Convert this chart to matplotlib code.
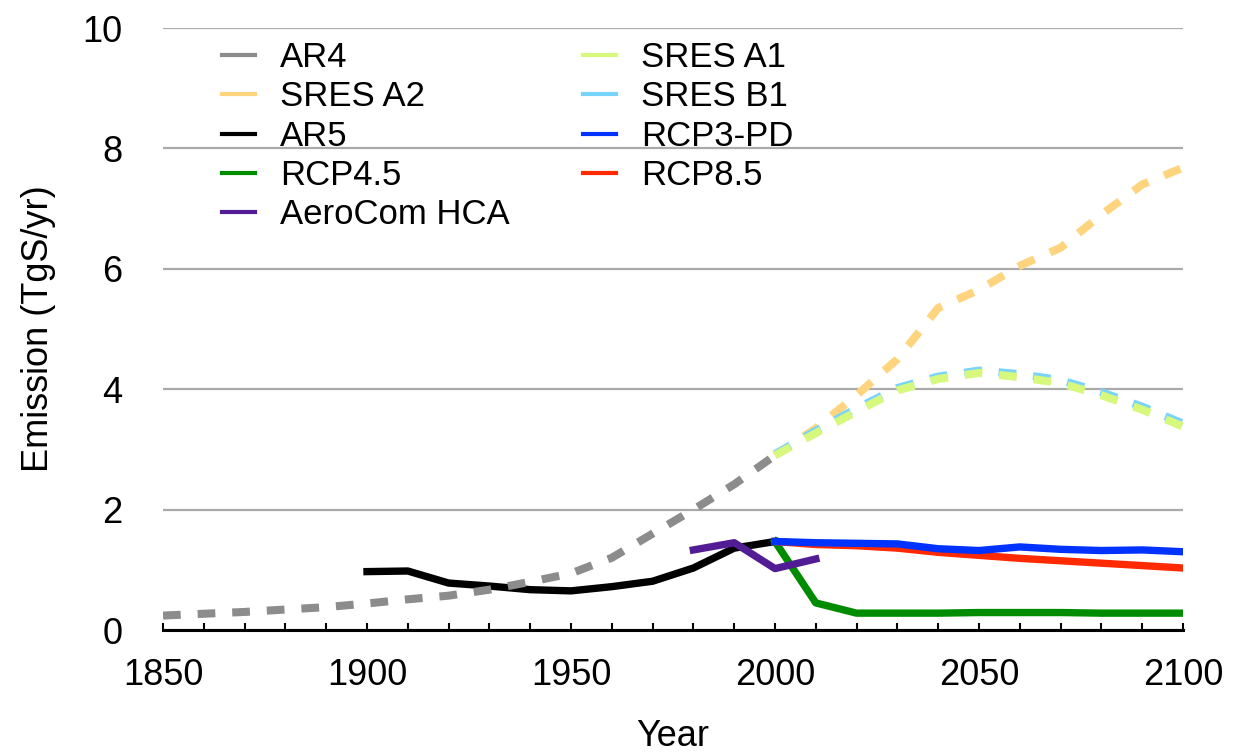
import matplotlib
matplotlib.use("Agg")
import matplotlib.pyplot as plt
from matplotlib.lines import Line2D
from matplotlib.ticker import MultipleLocator

plt.rcParams["font.family"] = ["Liberation Sans", "DejaVu Sans"]

# decadal series
ar4_years = list(range(1850, 2001, 10))
ar4 = [0.24, 0.27, 0.30, 0.34, 0.38, 0.44, 0.51, 0.57, 0.67, 0.80, 0.94, 1.20, 1.60, 2.00, 2.42, 2.90]

ar5_years = list(range(1900, 2001, 10))
ar5 = [0.97, 0.98, 0.78, 0.73, 0.67, 0.65, 0.72, 0.81, 1.03, 1.36, 1.47]

hca_years = [1980, 1990, 2000, 2010]
hca = [1.33, 1.45, 1.02, 1.18]

fut_years = list(range(2000, 2101, 10))
sres_a2 = [2.90, 3.35, 3.90, 4.50, 5.35, 5.65, 6.05, 6.35, 6.90, 7.40, 7.68]
sres_a1 = [2.90, 3.27, 3.63, 3.98, 4.17, 4.27, 4.20, 4.10, 3.90, 3.66, 3.38]
sres_b1 = [2.92, 3.31, 3.68, 4.02, 4.21, 4.31, 4.25, 4.15, 3.95, 3.71, 3.43]
rcp45 = [1.47, 0.45, 0.28, 0.28, 0.28, 0.29, 0.29, 0.29, 0.28, 0.28, 0.28]
rcp3pd = [1.47, 1.45, 1.44, 1.43, 1.35, 1.32, 1.38, 1.34, 1.32, 1.33, 1.30]
rcp85 = [1.47, 1.42, 1.40, 1.36, 1.29, 1.24, 1.19, 1.15, 1.11, 1.07, 1.03]

labels = ["AR4", "SRES A2", "AR5", "RCP4.5", "AeroCom HCA",
          "SRES A1", "SRES B1", "RCP3-PD", "RCP8.5"]
colors = ["#8c8c8c", "#ffd47f", "#000000", "#008c00", "#521c94",
          "#d6f87c", "#78d4fa", "#0033ff", "#ff2a00"]

fig = plt.figure(figsize=(12.52, 7.52), dpi=100)
ax = fig.add_axes([163 / 1252, 1 - 630 / 752, 1020 / 1252, 602 / 752])

dash = (0, (2.2, 2.1))
lw = 5.3
dlw = 5.8
ax.plot(ar5_years, ar5, color=colors[2], lw=lw, zorder=3)
ax.plot(ar4_years, ar4, color=colors[0], lw=dlw, ls=dash, dash_capstyle="butt", zorder=4)
ax.plot(fut_years, sres_a2, color=colors[1], lw=dlw, ls=dash, dash_capstyle="butt", zorder=3)
ax.plot(fut_years, sres_b1, color=colors[6], lw=dlw, ls=dash, dash_capstyle="butt", zorder=4)
ax.plot(fut_years, sres_a1, color=colors[5], lw=dlw, ls=dash, dash_capstyle="butt", zorder=5)
ax.plot(fut_years, rcp45, color=colors[3], lw=lw, zorder=4)
ax.plot(fut_years, rcp85, color=colors[8], lw=lw, zorder=5)
ax.plot(fut_years, rcp3pd, color=colors[7], lw=lw, zorder=6)
ax.plot(hca_years, hca, color=colors[4], lw=lw, zorder=7)

ax.set_xlim(1850, 2100)
ax.set_ylim(0, 10)
ax.xaxis.set_major_locator(MultipleLocator(50))
ax.xaxis.set_minor_locator(MultipleLocator(10))
ax.yaxis.set_major_locator(MultipleLocator(2))

for s in ["left", "right", "top"]:
    ax.spines[s].set_visible(False)
ax.spines["bottom"].set_linewidth(2.2)
ax.spines["bottom"].set_zorder(8)

ax.tick_params(axis="x", which="both", direction="in", length=5, width=1.5,
               labelsize=26, pad=20)
ax.tick_params(axis="y", length=0, labelsize=26, pad=29)
ax.grid(axis="y", color="#aaaaaa", lw=1.6)
ax.set_axisbelow(True)

ax.set_xlabel("Year", fontsize=26, labelpad=19)
ax.set_ylabel("Emission (TgS/yr)", fontsize=26, labelpad=19)

handles = [Line2D([0], [0], color=c, lw=3) for c in colors]
ax.legend(handles, labels, ncol=2, frameon=False, fontsize=25,
          loc="upper left", bbox_to_anchor=(0.058, 0.978),
          borderpad=0, borderaxespad=0, handlelength=0.95,
          handletextpad=0.72, labelspacing=0.18, columnspacing=2.1)

fig.savefig("out.png", dpi=100)
